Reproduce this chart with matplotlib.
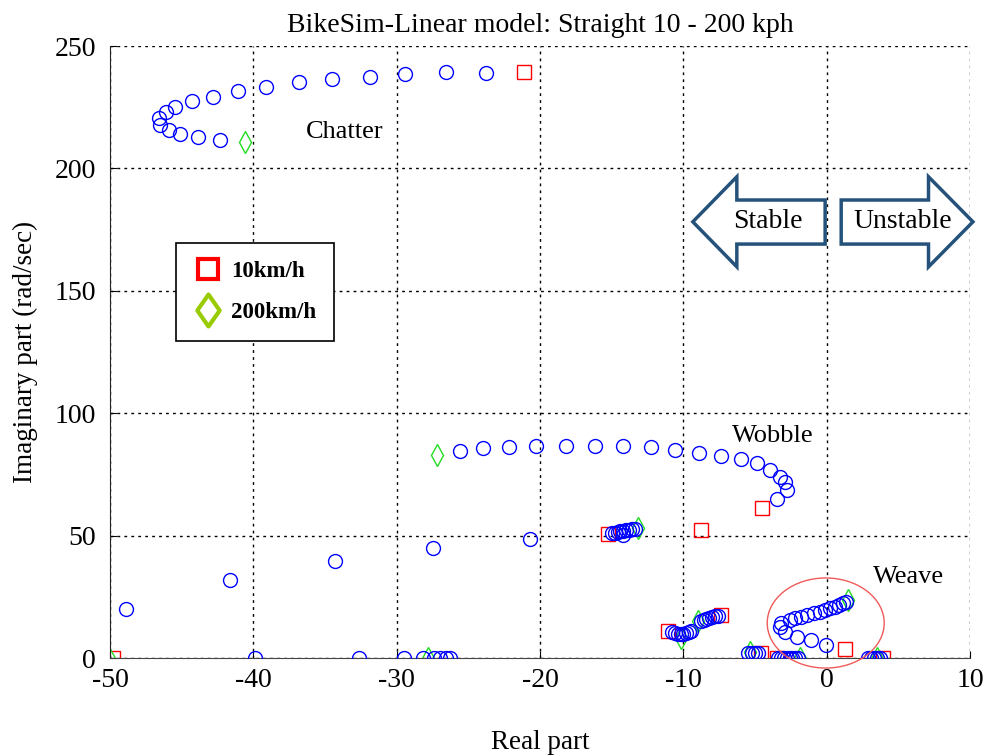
import matplotlib
matplotlib.use("Agg")
import matplotlib.pyplot as plt
from matplotlib.lines import Line2D
from matplotlib.patches import Ellipse, Polygon
from matplotlib.path import Path

plt.rcParams['font.family'] = ['Liberation Serif', 'DejaVu Serif']
plt.rcParams['axes.unicode_minus'] = False

# ---- eigenvalues (real part, imaginary part) ----
# 10 km/h end of each root locus
start_re = [-21.1, -4.5, 1.3, -15.3, -8.8, -11.1, -7.4, -4.6, -3.5, 3.9, -49.8]
start_im = [239.4, 61.3, 3.7, 50.8, 52.5, 11.0, 17.6, 2.2, 0.0, 0.0, 0.0]
# 200 km/h end of each root locus
end_re = [-40.6, -27.2, 1.5, -13.2, -9.0, -10.2, -5.35, -1.9, 3.5, -27.8, -50.1]
end_im = [210.8, 82.9, 23.7, 53.0, 15.1, 8.2, 2.4, 0.0, 0.0, 0.0, 0.0]

# intermediate speeds (20 - 190 km/h)
chatter_re = [-23.8, -26.6, -29.4, -31.9, -34.5, -36.8, -39.1, -41.1, -42.8,
              -44.3, -45.5, -46.1, -46.6, -46.5, -45.9, -45.1, -43.9, -42.3]
chatter_im = [239.0, 239.4, 238.6, 237.3, 236.5, 235.3, 233.3, 231.6, 229.2,
              227.7, 225.1, 223.0, 220.6, 217.7, 215.7, 214.0, 212.8, 211.6]

wobble_re = [-3.5, -2.8, -2.9, -3.3, -4.0, -4.9, -6.0, -7.4, -8.9,
             -10.6, -12.3, -14.2, -16.2, -18.2, -20.3, -22.2, -24.0, -25.6]
wobble_im = [65.0, 68.6, 71.9, 73.9, 76.8, 79.7, 81.3, 82.5, 83.7,
             85.0, 86.2, 86.6, 86.6, 86.6, 86.6, 86.2, 85.8, 84.6]

weave_re = [-0.05, -1.1, -2.1, -2.9, -3.3, -3.2, -2.6, -2.2, -1.8,
            -1.4, -0.9, -0.47, -0.12, 0.23, 0.57, 0.85, 1.13, 1.34]
weave_im = [5.3, 7.4, 8.6, 10.6, 12.7, 14.3, 15.5, 16.3, 16.7,
            17.6, 18.4, 18.8, 19.6, 20.4, 20.8, 21.6, 22.5, 22.9]

other_re = [-15.0, -14.8, -14.6, -14.4, -14.2, -14.0, -13.8, -13.6, -13.4, -14.2,
            -48.9, -41.6, -34.3, -27.5, -20.7,
            -10.8, -10.6, -10.4, -10.2, -10.0, -9.8, -9.6, -9.5,
            -8.8, -8.6, -8.4, -8.2, -8.0, -7.8, -7.6,
            -5.5, -5.2, -5.0, -4.8,
            -3.4, -3.2, -3.0, -2.8, -2.6, -2.4, -2.2, -2.0,
            2.9, 3.1, 3.3, 3.5, 3.7,
            -39.9, -32.6, -29.5, -28.2, -27.4, -27.0, -26.6, -26.3]
other_im = [51.0, 51.2, 51.5, 51.7, 52.0, 52.2, 52.4, 52.6, 52.8, 50.2,
            20.0, 31.9, 39.6, 44.9, 48.6,
            10.5, 10.3, 10.0, 9.8, 10.0, 10.3, 10.6, 11.0,
            15.3, 15.6, 15.9, 16.2, 16.6, 17.0, 17.3,
            2.0, 2.0, 2.0, 2.0,
            0.0, 0.0, 0.0, 0.0, 0.0, 0.0, 0.0, 0.0,
            0.0, 0.0, 0.0, 0.0, 0.0,
            0.0, 0.0, 0.0, 0.0, 0.0, 0.0, 0.0, 0.0]

# mode labels: (text, x, y)
mode_labels = [("Chatter", -33.6, 215.0), ("Wobble", -3.8, 90.7), ("Weave", 5.7, 33.0)]

# stability arrows (outline polygons in data units)
stable_arrow = [(-9.35, 178.2), (-6.28, 196.6), (-6.28, 187.1), (-0.12, 187.1),
                (-0.12, 169.1), (-6.28, 169.1), (-6.28, 159.8)]
unstable_arrow = [(10.19, 178.2), (7.09, 196.6), (7.09, 187.1), (1.0, 187.1),
                  (1.0, 169.1), (7.09, 169.1), (7.09, 159.8)]

fig = plt.figure(figsize=(9.87, 7.56), dpi=100)
ax = fig.add_axes([0.1115, 0.1296, 0.8715, 0.8095])

circ = dict(linestyle='none', marker='o', markersize=10, markerfacecolor='none',
            markeredgecolor='#0000ff', markeredgewidth=1.0)
for re_, im_ in [(chatter_re, chatter_im), (wobble_re, wobble_im),
                 (weave_re, weave_im), (other_re, other_im)]:
    ax.plot(re_, im_, **circ, zorder=3)

ax.plot(start_re, start_im, linestyle='none', marker='s', markersize=10,
        markerfacecolor='none', markeredgecolor='#ff0000', markeredgewidth=1.0, zorder=2)
ax.plot(end_re, end_im, linestyle='none', marker='d', markersize=11,
        markerfacecolor='none', markeredgecolor='#22dd22', markeredgewidth=1.0, zorder=2)

ax.set_xlim(-50, 10)
ax.set_ylim(0, 250)
ax.set_xticks(range(-50, 11, 10))
ax.set_yticks(range(0, 251, 50))
ax.grid(True, color='black', linestyle=(0, (2, 3)), linewidth=1.0)
ax.set_axisbelow(True)
for s in ('top', 'right'):
    ax.spines[s].set_visible(False)
ax.spines['left'].set_color('#222222')
ax.spines['bottom'].set_color('#444444')
ax.tick_params(direction='in', length=5, labelsize=20)
ax.tick_params(axis='y', pad=10)
ax.tick_params(axis='x', pad=7)

ax.set_title("BikeSim-Linear model: Straight 10 - 200 kph", fontsize=20, pad=10)
ax.set_xlabel("Real part", fontsize=19.5, labelpad=27)
ax.set_ylabel("Imaginary part (rad/sec)", fontsize=19.5, labelpad=12)

for txt, x, y in mode_labels:
    ax.text(x, y, txt, fontsize=19, ha='center', va='center', zorder=5)

ax.add_patch(Ellipse((-0.08, 14.3), 8.16, 36.8, fill=False, edgecolor='#f05a5a',
                     linewidth=1.0, clip_on=False, zorder=4))

for pts, label, cx in [(stable_arrow, "Stable", -4.1), (unstable_arrow, "Unstable", 5.3)]:
    ax.add_patch(Polygon(pts, closed=True, facecolor='white', edgecolor='#24527a',
                         linewidth=2.5, clip_on=False, zorder=5))
    ax.text(cx, 178.5, label, fontsize=20, ha='center', va='center', zorder=6)

# tall lozenge marker for the legend entry
lozenge = Path([(0, 1), (0.7, 0), (0, -1), (-0.7, 0), (0, 1)],
               [Path.MOVETO, Path.LINETO, Path.LINETO, Path.LINETO, Path.CLOSEPOLY])
handles = [
    Line2D([], [], linestyle='none', marker='s', markersize=14, markerfacecolor='none',
           markeredgecolor='#ff0000', markeredgewidth=3),
    Line2D([], [], linestyle='none', marker=lozenge, markersize=23, markerfacecolor='none',
           markeredgecolor='#99cc00', markeredgewidth=3),
]
leg = ax.legend(handles, ["10km/h", "200km/h"], loc='upper left',
                bbox_to_anchor=(0.0767, 0.678), prop={'weight': 'bold', 'size': 16.5},
                frameon=True, fancybox=False, edgecolor='black', framealpha=1,
                handlelength=1.2, handletextpad=0.4, borderpad=0.8,
                labelspacing=0.85, borderaxespad=0)
leg.get_frame().set_linewidth(1.2)
leg.set_zorder(6)

fig.savefig("out.png", dpi=100)
